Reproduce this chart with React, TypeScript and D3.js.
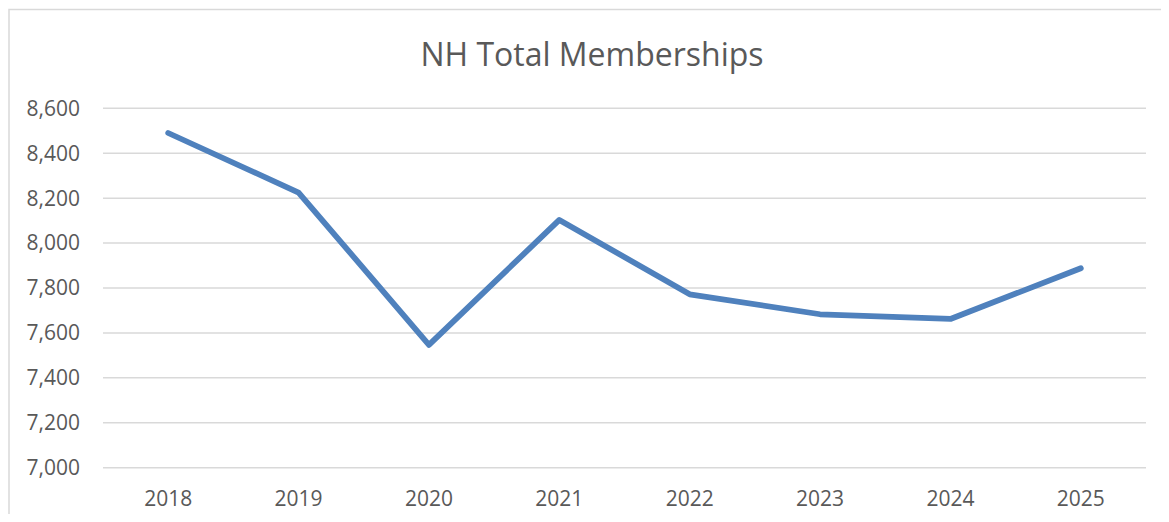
import React from "react";
import * as d3 from "d3";

const years = ["2018", "2019", "2020", "2021", "2022", "2023", "2024", "2025"];
const memberships = [8490, 8225, 7547, 8103, 7772, 7683, 7662, 7888];
const yTicks = [7000, 7200, 7400, 7600, 7800, 8000, 8200, 8400, 8600];
const title = "NH Total Memberships";

const W = 1153;
const H = 506;
const font = "'Open Sans', sans-serif";

export default function App() {
  const margin = { top: 100.3, right: 15, bottom: 46.3, left: 95 };

  const x = d3
    .scaleBand<string>()
    .domain(years)
    .range([margin.left, W - margin.right]);

  const y = d3
    .scaleLinear()
    .domain([7000, 8600])
    .range([H - margin.bottom, margin.top]);

  const line = d3
    .line<number>()
    .x((_, i) => (x(years[i]) as number) + x.bandwidth() / 2)
    .y((d) => y(d));

  const fmt = d3.format(",");

  return (
    <svg width={W} height={H} style={{ display: "block" }}>
      <rect x={0} y={0} width={W} height={H} fill="#fff" />
      {/* chart frame, runs off the right and bottom edges */}
      <rect x={1} y={1.5} width={W + 10} height={H + 10} fill="none" stroke="#d9d9d9" strokeWidth={1.5} />

      <text x={584} y={57.5} textAnchor="middle" fontFamily={font} fontSize={32} fill="#595959">
        {title}
      </text>

      {/* gridlines */}
      {yTicks.map((t) => (
        <line key={t} x1={margin.left} x2={W - margin.right} y1={y(t)} y2={y(t)} stroke="#d9d9d9" strokeWidth={1.5} />
      ))}

      {/* y labels */}
      {yTicks.map((t) => (
        <text
          key={"l" + t}
          x={72}
          y={y(t)}
          dy="0.35em"
          textAnchor="end"
          fontFamily={font}
          fontSize={21}
          fill="#595959"
        >
          {fmt(t)}
        </text>
      ))}

      {/* x labels */}
      {years.map((yr) => (
        <text
          key={yr}
          x={(x(yr) as number) + x.bandwidth() / 2}
          y={498}
          textAnchor="middle"
          fontFamily={font}
          fontSize={21}
          fill="#595959"
        >
          {yr}
        </text>
      ))}

      <path
        d={line(memberships) || ""}
        fill="none"
        stroke="#4f81bd"
        strokeWidth={5.75}
        strokeLinecap="round"
        strokeLinejoin="round"
      />
    </svg>
  );
}
